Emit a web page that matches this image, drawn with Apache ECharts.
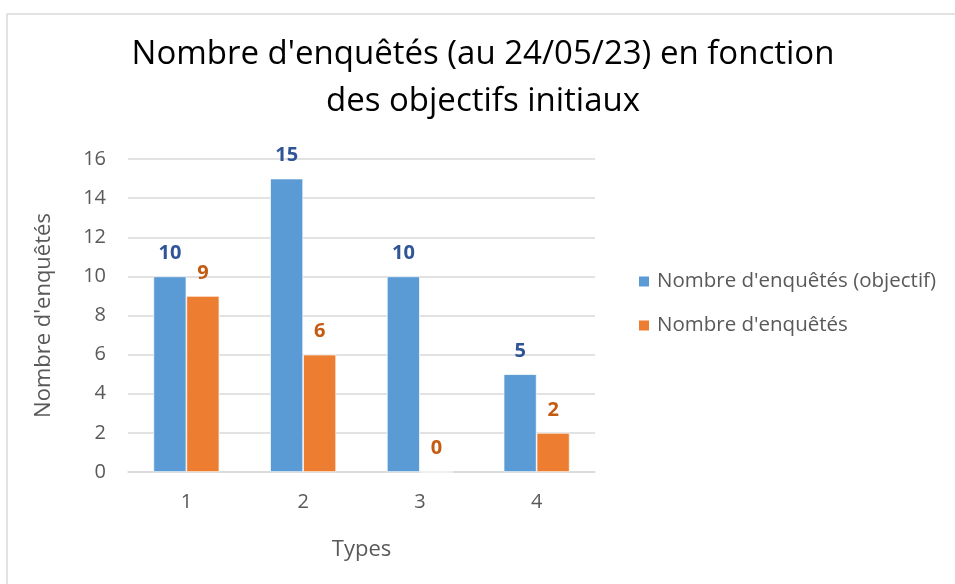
<!DOCTYPE html>
<html>
<head>
<meta charset="utf-8">
<script src="https://cdn.jsdelivr.net/npm/echarts@6/dist/echarts.min.js"></script>
<style>
html,body{margin:0;padding:0;background:#fff;}
#chart{width:955px;height:584px;}
</style>
</head>
<body>
<div id="chart"></div>
<script>
const categories = ['1', '2', '3', '4'];
const objectifValues = [10, 15, 10, 5];
const enqueteValues = [9, 6, 0, 2];
const seriesNames = ["Nombre d'enquêtés (objectif)", "Nombre d'enquêtés"];
const titleText = "Nombre d'enquêtés (au 24/05/23) en fonction\ndes objectifs initiaux";

const FONT = '"Open Sans", "Noto Sans", sans-serif';
const chart = echarts.init(document.getElementById('chart'), null, {renderer: 'canvas'});
chart.setOption({
  backgroundColor: '#fff',
  animation: false,
  textStyle: {fontFamily: FONT},
  graphic: [{
    type: 'rect',
    shape: {x: 7, y: 14, width: 960, height: 600},
    style: {fill: 'none', stroke: '#D9D9D9', lineWidth: 1.5},
    silent: true
  }],
  title: {
    text: titleText,
    left: 478,
    textAlign: 'center',
    top: 26,
    textStyle: {fontFamily: FONT, fontSize: 33, fontWeight: 'normal', color: '#000', lineHeight: 47}
  },
  legend: {
    orient: 'vertical',
    left: 632,
    top: 266,
    itemWidth: 12,
    itemHeight: 12,
    itemGap: 23,
    icon: 'rect',
    textStyle: {fontFamily: FONT, fontSize: 20.5, color: '#595959', padding: [0, 0, 0, 2]},
    data: seriesNames
  },
  grid: {left: 128, right: 360, top: 159, bottom: 112, containLabel: false},
  xAxis: {
    type: 'category',
    data: categories,
    name: 'Types',
    nameLocation: 'middle',
    nameGap: 67,
    nameTextStyle: {fontFamily: FONT, fontSize: 22, color: '#595959'},
    axisLine: {lineStyle: {color: '#D9D9D9', width: 1.5}},
    axisTick: {show: false},
    axisLabel: {fontFamily: FONT, fontSize: 20, color: '#595959', margin: 20}
  },
  yAxis: {
    type: 'value',
    min: 0,
    max: 16,
    interval: 2,
    name: "Nombre d'enquêtés",
    nameLocation: 'middle',
    nameGap: 73,
    nameTextStyle: {fontFamily: FONT, fontSize: 22, color: '#595959'},
    axisLine: {show: false},
    axisTick: {show: false},
    axisLabel: {fontFamily: FONT, fontSize: 20, color: '#595959', margin: 22},
    splitLine: {lineStyle: {color: '#D9D9D9', width: 1.5}}
  },
  series: [
    {
      name: seriesNames[0],
      type: 'bar',
      data: objectifValues,
      barWidth: 33,
      barGap: '0%',
      itemStyle: {color: '#5B9BD5', borderColor: '#fff', borderWidth: 0.7},
      label: {show: true, position: 'top', distance: 13, fontFamily: FONT, fontSize: 20, fontWeight: 'bold', color: '#2F5597'}
    },
    {
      name: seriesNames[1],
      type: 'bar',
      data: enqueteValues,
      barWidth: 33,
      itemStyle: {color: '#ED7D31', borderColor: '#fff', borderWidth: 0.7},
      label: {show: true, position: 'top', distance: 13, fontFamily: FONT, fontSize: 20, fontWeight: 'bold', color: '#C55A11'}
    }
  ]
});
</script>
</body>
</html>
